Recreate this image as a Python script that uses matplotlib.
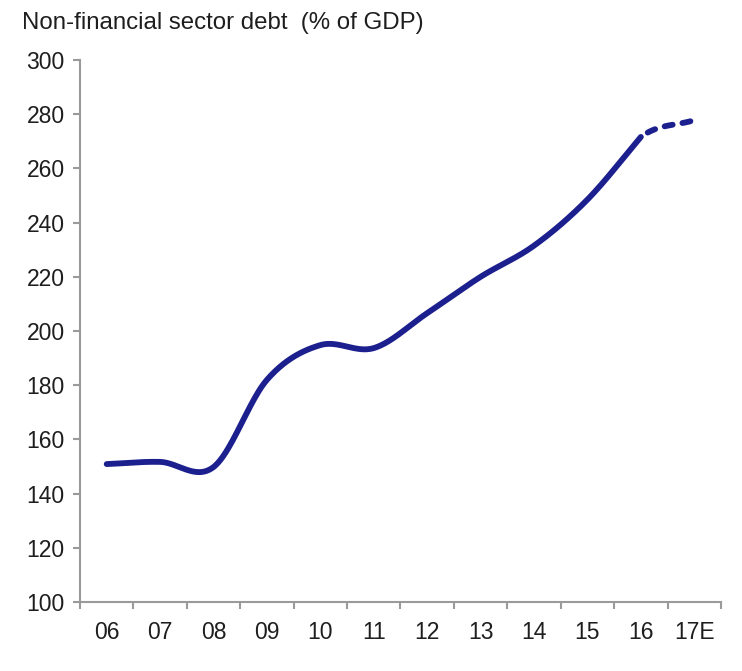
import numpy as np
import matplotlib
matplotlib.use("Agg")
import matplotlib.pyplot as plt

plt.rcParams['font.family'] = ['Liberation Sans', 'DejaVu Sans']

# Non-financial sector debt, % of GDP (annual, 2017 estimated)
years = ["06", "07", "08", "09", "10", "11", "12", "13", "14", "15", "16", "17E"]
actual = [150.9, 151.7, 149.8, 182.0, 194.8, 193.7, 206.6, 220.0, 231.5, 248.5, 271.6]
estimate = [271.6, 277.8]

y_ticks = [100, 120, 140, 160, 180, 200, 220, 240, 260, 280, 300]
title = "Non-financial sector debt  (% of GDP)"

LINE = '#1c1f8e'
AXIS = '#9a9a9a'
TEXT = '#1e1e1e'
FS = 16.5


def smooth(xs, ys, n=40, prev=None, nxt=None):
    """Catmull-Rom style smoothing through the given points."""
    xs = np.asarray(xs, float)
    ys = np.asarray(ys, float)
    px = np.concatenate([[xs[0] - 1 if prev is None else prev[0]], xs,
                         [xs[-1] + 1 if nxt is None else nxt[0]]])
    py = np.concatenate([[ys[0] if prev is None else prev[1]], ys,
                         [ys[-1] if nxt is None else nxt[1]]])
    if prev is None:
        py[0] = ys[0] - (ys[1] - ys[0]) if len(ys) > 1 else ys[0]
    if nxt is None:
        py[-1] = ys[-1] + (ys[-1] - ys[-2]) if len(ys) > 1 else ys[-1]
    out_x, out_y = [], []
    for i in range(1, len(px) - 2):
        x0, x1 = px[i], px[i + 1]
        y0, y1 = py[i], py[i + 1]
        m0 = (py[i + 1] - py[i - 1]) / (px[i + 1] - px[i - 1]) * (x1 - x0)
        m1 = (py[i + 2] - py[i]) / (px[i + 2] - px[i]) * (x1 - x0)
        t = np.linspace(0, 1, n)
        h00 = 2 * t**3 - 3 * t**2 + 1
        h10 = t**3 - 2 * t**2 + t
        h01 = -2 * t**3 + 3 * t**2
        h11 = t**3 - t**2
        out_x.append(x0 + (x1 - x0) * t)
        out_y.append(h00 * y0 + h10 * m0 + h01 * y1 + h11 * m1)
    return np.concatenate(out_x), np.concatenate(out_y)


fig = plt.figure(figsize=(7.42, 6.71), dpi=100)
ax = fig.add_axes([0.1078, 0.1028, 0.8639, 0.8078])

x_act = np.arange(len(actual))
x_est = np.arange(len(actual) - 1, len(actual) - 1 + len(estimate))

sx, sy = smooth(x_act, actual)
ax.plot(sx, sy, color=LINE, lw=4.2, solid_capstyle='round')
ex, ey = smooth(x_est, estimate, prev=(x_act[-2], actual[-2]))
ax.plot(ex[5:], ey[5:], color=LINE, lw=4.2, dash_capstyle='round',
        dashes=(1.4, 1.7))

ax.set_xlim(-0.5, len(years) - 0.5)
ax.set_ylim(100, 300)
ax.set_yticks(y_ticks)
ax.set_yticklabels([str(v) for v in y_ticks], fontsize=FS, color=TEXT)

ax.set_xticks(np.arange(len(years)))
ax.set_xticklabels(years, fontsize=FS, color=TEXT)
ax.set_xticks(np.arange(len(years) + 1) - 0.5, minor=True)
ax.tick_params(axis='x', which='major', length=0, pad=14)
ax.tick_params(axis='x', which='minor', length=5, width=1.5, color=AXIS, direction='out')
ax.tick_params(axis='y', length=5, width=1.5, color=AXIS, direction='out', pad=6)

for s in ['top', 'right']:
    ax.spines[s].set_visible(False)
for s in ['left', 'bottom']:
    ax.spines[s].set_color(AXIS)
    ax.spines[s].set_linewidth(1.5)

fig.text(0.03, 0.966, title, fontsize=FS + 0.8, ha='left', va='center', color=TEXT)

fig.savefig('out.png', dpi=100, facecolor='white')
